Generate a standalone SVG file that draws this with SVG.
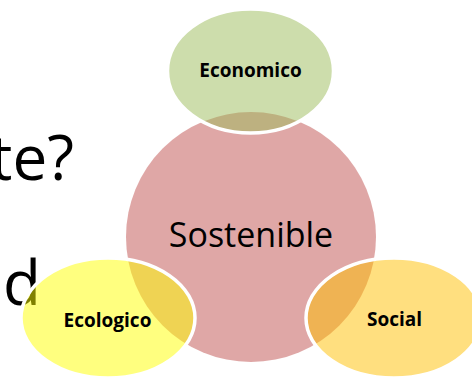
<svg xmlns="http://www.w3.org/2000/svg" width="472" height="380" viewBox="0 0 472 380">
  <style>
    .bg { font-family: "Open Sans", "Liberation Sans", sans-serif; font-size: 62px; fill: #000000; }
    .lbl { font-family: "Open Sans", "Liberation Sans", sans-serif; font-size: 19px; font-weight: bold; fill: #000000; text-anchor: middle; }
    .main { font-family: "Open Sans", "Liberation Sans", sans-serif; font-size: 34px; fill: #000000; text-anchor: middle; }
    .petal { stroke: #FFFFFF; stroke-width: 3.5; }
  </style>
  <rect x="0" y="0" width="472" height="380" fill="#FFFFFF"/>
  <g id="slide-text">
    <text class="bg" x="74" y="180" text-anchor="end">te?</text>
    <text class="bg" x="41" y="305" text-anchor="end">d</text>
  </g>
  <g id="connectors"></g>
  <g id="sostenible">
    <circle cx="251" cy="237" r="125" fill="#C0504D" fill-opacity="0.5"/>
    <text class="main" x="251" y="247">Sostenible</text>
  </g>
  <g id="economico">
    <ellipse class="petal" cx="250.5" cy="71" rx="83" ry="62" fill="rgb(155,187,89)" fill-opacity="0.5"/>
    <text class="lbl" x="250.5" y="77">Economico</text>
  </g>
  <g id="ecologico">
    <ellipse class="petal" cx="108" cy="318" rx="87" ry="60" fill="#FFFF00" fill-opacity="0.5"/>
    <text class="lbl" x="107.5" y="327">Ecologico</text>
  </g>
  <g id="social">
    <ellipse class="petal" cx="394" cy="318" rx="88" ry="60" fill="#FFC000" fill-opacity="0.5"/>
    <text class="lbl" x="394.5" y="326">Social</text>
  </g>
</svg>
